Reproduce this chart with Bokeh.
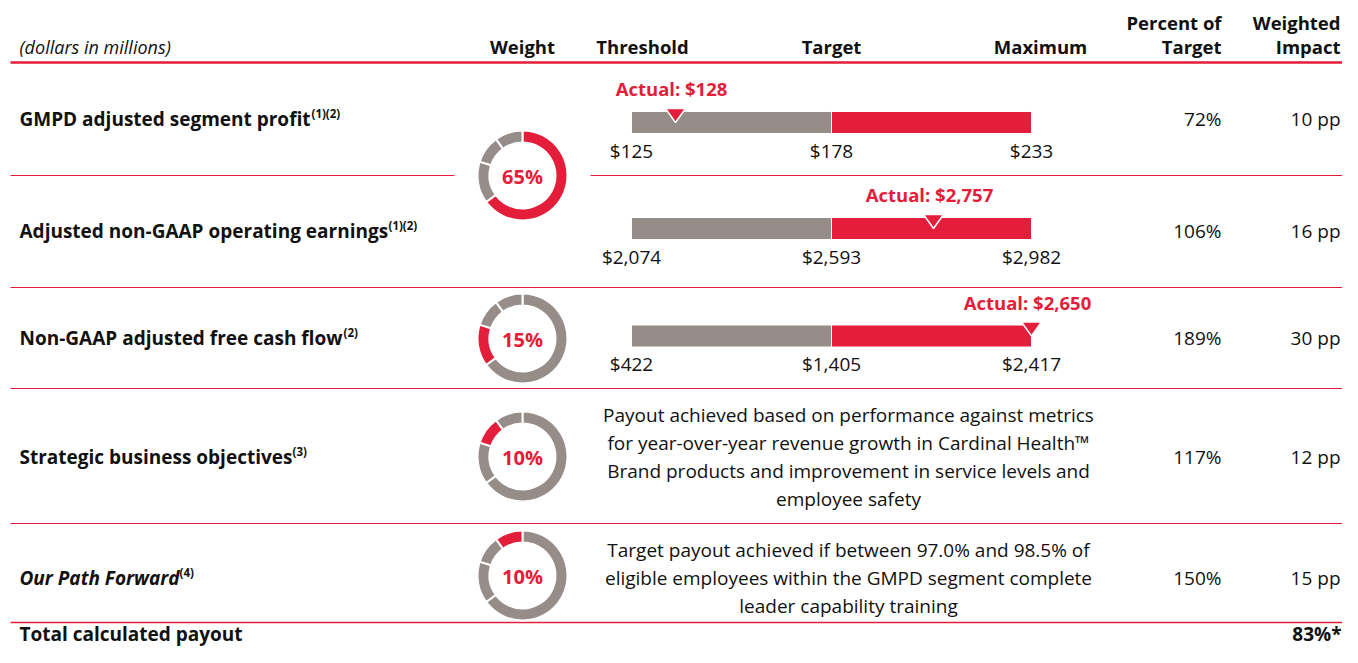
from bokeh.plotting import figure
from bokeh.models import Range1d
from bokeh.embed import file_html
from bokeh.resources import INLINE
from bokeh.core.properties import value
import numpy as np

# ---------------- data ----------------
metrics = ["GMPD adjusted segment profit", "Adjusted non-GAAP operating earnings",
           "Non-GAAP adjusted free cash flow", "Strategic business objectives",
           "Our Path Forward"]
metric_notes = ["(1)(2)", "(1)(2)", "(2)", "(3)", "(4)"]
weights = [65, 15, 10, 10]
weight_labels = ["65%", "15%", "10%", "10%"]
threshold_labels = ["$125", "$2,074", "$422"]
target_labels = ["$178", "$2,593", "$1,405"]
maximum_labels = ["$233", "$2,982", "$2,417"]
actual_labels = ["Actual: $128", "Actual: $2,757", "Actual: $2,650"]
# marker position on the threshold (0) - target (1) - maximum (2) scale
actual_pos = [0.22, 1.51, 2.0]
percent_of_target = ["72%", "106%", "189%", "117%", "150%"]
weighted_impact = ["10 pp", "16 pp", "30 pp", "12 pp", "15 pp"]
descriptions = [
    ["Payout achieved based on performance against metrics",
     "for year-over-year revenue growth in Cardinal Health\u2122",
     "Brand products and improvement in service levels and",
     "employee safety"],
    ["Target payout achieved if between 97.0% and 98.5% of",
     "eligible employees within the GMPD segment complete",
     "leader capability training"],
]
unit_note = "(dollars in millions)"
total_label = "Total calculated payout"
total_value = "83%*"

# ---------------- layout / style ----------------
RED = "#E31D3A"
GRAY = "#968D88"
INK = "#111111"
FONT = "Open Sans"
W, H = 1342, 647
row_y = [118, 230, 337, 456, 577]
bar_y = [122, 228, 335.5]
donut_x = 522
donut_y = [175, 338, 456, 575]
note_x = [311, 388, 343, 292, 179]
desc_x = 848
desc_y0 = [414, 549]
desc_dy = 28
col_weight, col_thr, col_tgt, col_max = 522, 642, 831, 1040
col_pct, col_imp = 1221, 1340
label_x = 19
sep_y = [287, 388, 523]
total_y = 633
total_rule_y = 622

p = figure(width=W, height=H, output_backend="svg", toolbar_location=None,
           x_range=Range1d(0, W), y_range=Range1d(H, 0),
           min_border=0, outline_line_color=None, background_fill_color="white",
           border_fill_color="white")
p.axis.visible = False
p.grid.visible = False
# bar scale: 0 = threshold, 1 = target, 2 = maximum  (200 px per unit, 0 at x=631)
s0 = -631 / 200.0
p.extra_x_ranges = {"bar": Range1d(s0, s0 + W / 200.0)}


def txt(x, y, t, size=19, color=INK, align="left", style="normal", xr="default"):
    p.text(x=x, y=y, text=t, text_font=value(FONT), text_font_size=f"{size}px",
           text_color=color, text_align=align, text_baseline="middle",
           text_font_style=style, x_range_name=xr)


# ---- header ----
txt([label_x], [46], [unit_note], size=18, style="italic")
txt([col_weight, col_thr, col_tgt, col_max], [46] * 4,
    ["Weight", "Threshold", "Target", "Maximum"], size=18.5, align="center", style="bold")
txt([col_pct, col_pct, col_imp, col_imp], [22, 46, 22, 46],
    ["Percent of", "Target", "Weighted", "Impact"], size=18.5, align="right", style="bold")

# ---- rules ----
p.segment(x0=[10], x1=[W], y0=[62], y1=[62], line_color=RED, line_width=2.5)
p.segment(x0=[10, 590] + [10] * len(sep_y), x1=[454, W] + [W] * len(sep_y),
          y0=[175, 175] + sep_y, y1=[175, 175] + sep_y, line_color=RED, line_width=1.2)
p.segment(x0=[10], x1=[W], y0=[total_rule_y], y1=[total_rule_y], line_color=RED,
          line_width=1.6)

# ---- metric labels ----
for i, m in enumerate(metrics):
    st = "bold italic" if i == 4 else "bold"
    txt([label_x], [row_y[i]], [m], size=19, style=st)
    txt([note_x[i]], [row_y[i] - 5], [metric_notes[i]], size=11.5, style="bold")
txt([label_x], [total_y], [total_label], size=19, style="bold")
txt([W - 1], [total_y], [total_value], size=19, align="right", style="bold")

# ---- donuts ----
cum = np.concatenate([[0], np.cumsum(weights)]) / float(sum(weights))
for k in range(len(weights)):
    a_start = np.pi / 2 - 2 * np.pi * cum[1:]
    a_end = np.pi / 2 - 2 * np.pi * cum[:-1]
    colors = [RED if j == k else GRAY for j in range(len(weights))]
    p.annular_wedge(x=[donut_x] * len(weights), y=[donut_y[k]] * len(weights),
                    inner_radius=33, outer_radius=45, start_angle=a_start, end_angle=a_end,
                    fill_color=colors, line_color="white", line_width=2)
    txt([donut_x], [donut_y[k] + 1], [weight_labels[k]], size=20, color=RED,
        align="center", style="bold")

# ---- bullet bars ----
n = len(actual_pos)
p.hbar(y=bar_y, left=[0] * n, right=[1] * n, height=22, fill_color=GRAY,
       line_color="white", line_width=1, x_range_name="bar")
p.hbar(y=bar_y, left=[1] * n, right=[2] * n, height=22, fill_color=RED,
       line_color="white", line_width=1, x_range_name="bar")
ap = np.array(actual_pos)
by = np.array(bar_y)
tri_xs = [[a - 0.05, a + 0.05, a] for a in ap]
tri_ys = [[y - 14, y - 14, y] for y in by]
p.patches(xs=tri_xs, ys=tri_ys, fill_color=RED, line_color="white", line_width=1.5,
          x_range_name="bar")
txt(list(ap - 0.02), list(by - 34), actual_labels, size=18.5, color=RED,
    align="center", style="bold", xr="bar")
for vals, pos in ((threshold_labels, 0), (target_labels, 1), (maximum_labels, 2)):
    txt([pos] * n, list(by + 28), vals, size=19, align="center", xr="bar")

# ---- descriptions ----
for d, y0 in zip(descriptions, desc_y0):
    txt([desc_x] * len(d), [y0 + j * desc_dy for j in range(len(d))], d, size=19,
        align="center")

# ---- right columns ----
txt([col_pct] * len(row_y), row_y, percent_of_target, size=19, align="right")
txt([col_imp] * len(row_y), row_y, weighted_impact, size=19, align="right")

open("out.html", "w").write(file_html(p, INLINE))
